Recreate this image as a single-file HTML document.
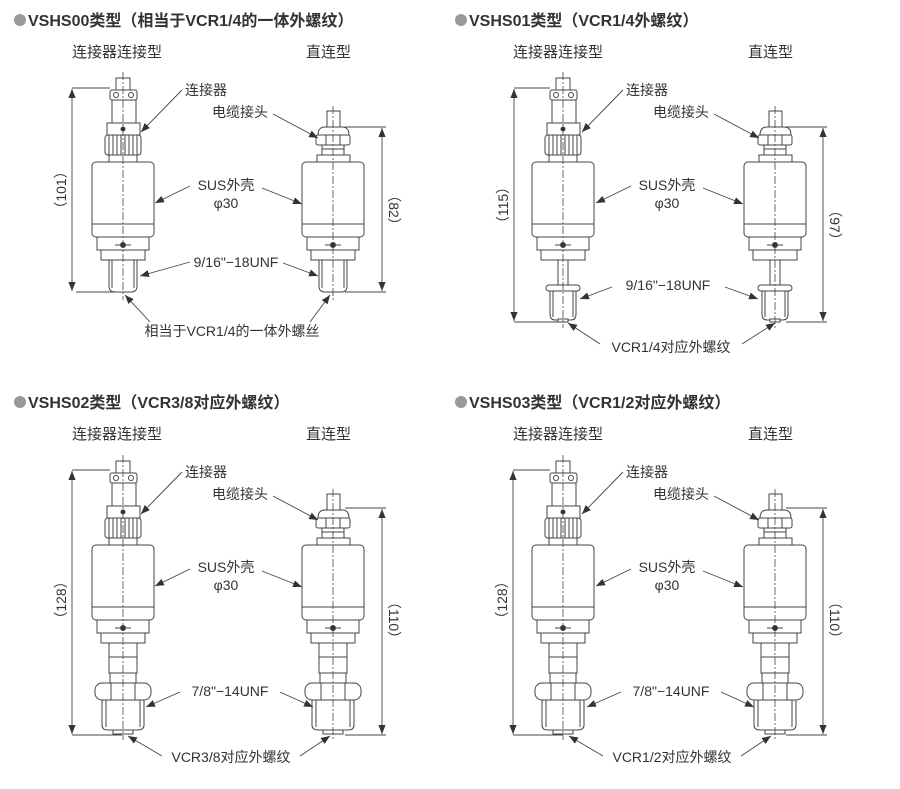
<!DOCTYPE html>
<html><head><meta charset="utf-8"><style>
html,body{margin:0;padding:0;background:#fff;}
svg{display:block;}
text{font-family:"Liberation Sans","Noto Sans CJK SC",sans-serif;fill:#333;}
.t{font-size:16px;font-weight:bold;}
.s{font-size:15px;}
.l{font-size:14px;}
</style></head><body>
<svg width="900" height="789" viewBox="0 0 900 789" xmlns="http://www.w3.org/2000/svg">
<defs>
<marker id="ar" viewBox="0 0 10 10" refX="10" refY="5" markerWidth="9" markerHeight="9" orient="auto-start-reverse" markerUnits="userSpaceOnUse"><path d="M0,1 L10,5 L0,9 z" fill="#333"/></marker>
<g id="conn" fill="#fff" stroke="#444" stroke-width="1">
 <rect x="-7" y="-84" width="14" height="12"/>
 <rect x="-13" y="-72" width="27" height="10" rx="2"/>
 <circle cx="-7" cy="-67" r="2.5"/><circle cx="8" cy="-67" r="2.5"/>
 <rect x="-11" y="-62" width="24" height="23"/>
 <rect x="-16" y="-39" width="33" height="12"/>
 <circle cx="0" cy="-33" r="2" fill="#222"/>
 <rect x="-18" y="-27" width="36" height="20" rx="3"/>
 <path d="M-14,-27v20M-10,-27v20M-6,-27v20M-2,-27v20M2,-27v20M6,-27v20M10,-27v20M14,-27v20"/>
 <rect x="-14" y="-7" width="28" height="7"/>
</g>
<g id="gland" fill="#fff" stroke="#444" stroke-width="1">
 <rect x="-6" y="-51" width="13" height="16"/>
 <path d="M-15,-27 Q-15,-35 -8,-35 H9 Q16,-35 16,-27 Z"/>
 <rect x="-17" y="-27" width="34" height="10" rx="2"/>
 <path d="M-7,-27v10M7,-27v10"/>
 <rect x="-11" y="-17" width="22" height="10"/>
 <path d="M-11,-13h22"/>
 <rect x="-16" y="-7" width="33" height="7"/>
</g>
<g id="body" fill="#fff" stroke="#444" stroke-width="1">
 <rect x="-31" y="0" width="62" height="75" rx="4"/>
 <path d="M-31,62h62"/>
 <rect x="-26" y="75" width="52" height="13"/>
 <rect x="-22" y="88" width="44" height="10"/>
 <circle cx="0" cy="83" r="2.5" fill="#222"/>
 <path d="M-8,83h16"/>
</g>
<g id="b00" fill="#fff" stroke="#444" stroke-width="1">
 <path d="M-14,98 H14 V124 Q14,130 8,130 H-8 Q-14,130 -14,124 Z"/>
 <path d="M-11,98v28M11,98v28"/>
</g>
<g id="b01" fill="#fff" stroke="#444" stroke-width="1">
 <rect x="-5" y="98" width="10" height="26"/>
 <rect x="-17" y="123" width="34" height="6" rx="3"/>
 <path d="M-13,129 H13 V152 Q13,158 8,158 H-8 Q-13,158 -13,152 Z"/>
 <path d="M-10,129v26M10,129v26"/>
 <rect x="-5" y="157" width="10" height="3"/>
</g>
<g id="b23" fill="#fff" stroke="#444" stroke-width="1">
 <rect x="-14" y="98" width="28" height="30"/>
 <path d="M-14,112h28"/>
 <rect x="-13" y="128" width="26" height="10"/>
 <rect x="-28" y="138" width="56" height="17" rx="7"/>
 <path d="M-12,138v17M12,138v17"/>
 <path d="M-21,155 H21 V180 Q21,185 15,185 H-15 Q-21,185 -21,180 Z"/>
 <path d="M-17,155v27M17,155v27"/>
 <rect x="-10" y="185" width="20" height="4"/>
</g>
</defs>

<!-- titles -->
<circle cx="20" cy="20" r="6" fill="#999"/>
<text class="t" x="28" y="26">VSHS00类型（相当于VCR1/4的一体外螺纹）</text>
<text class="s" x="72" y="57">连接器连接型</text><text class="s" x="306" y="57">直连型</text>
<circle cx="461" cy="20" r="6" fill="#999"/>
<text class="t" x="469" y="26">VSHS01类型（VCR1/4外螺纹）</text>
<text class="s" x="513" y="57">连接器连接型</text><text class="s" x="748" y="57">直连型</text>
<circle cx="20" cy="402" r="6" fill="#999"/>
<text class="t" x="28" y="408">VSHS02类型（VCR3/8对应外螺纹）</text>
<text class="s" x="72" y="439">连接器连接型</text><text class="s" x="306" y="439">直连型</text>
<circle cx="461" cy="402" r="6" fill="#999"/>
<text class="t" x="469" y="408">VSHS03类型（VCR1/2对应外螺纹）</text>
<text class="s" x="513" y="439">连接器连接型</text><text class="s" x="748" y="439">直连型</text>

<g stroke="#444" stroke-width="0.9" fill="none">
<path d="M72,88H110M76,292H122M345,127H386M345,292H386"/>
<path d="M514,88H550M514,322H562M786,127H827M786,322H827"/>
<path d="M72,470H110M72,735H122M345,508H386M345,735H386"/>
<path d="M513,470H550M513,735H563M786,508H827M786,735H827"/>
</g>
<g stroke="#444" stroke-width="0.9" fill="none" marker-start="url(#ar)" marker-end="url(#ar)">
<path d="M72,89V291"/><path d="M382,128V291"/>
<path d="M514,89V321"/><path d="M823,128V321"/>
<path d="M72,471V734"/><path d="M382,509V734"/>
<path d="M513,471V734"/><path d="M823,509V734"/>
</g>
<text class="l" transform="translate(66,190) rotate(-90)" text-anchor="middle">（101）</text>
<text class="l" transform="translate(389,210) rotate(90)" text-anchor="middle">（82）</text>
<text class="l" transform="translate(508,205) rotate(-90)" text-anchor="middle">（115）</text>
<text class="l" transform="translate(830,225) rotate(90)" text-anchor="middle">（97）</text>
<text class="l" transform="translate(66,600) rotate(-90)" text-anchor="middle">（128）</text>
<text class="l" transform="translate(389,620) rotate(90)" text-anchor="middle">（110）</text>
<text class="l" transform="translate(507,600) rotate(-90)" text-anchor="middle">（128）</text>
<text class="l" transform="translate(830,620) rotate(90)" text-anchor="middle">（110）</text>

<!-- parts -->
<g transform="translate(123,162)"><use href="#conn"/><use href="#body"/><use href="#b00"/><path d="M0,-90V138" stroke="#444" stroke-width="0.8" stroke-dasharray="8,2,2,2" fill="none"/></g>
<g transform="translate(333,162)"><use href="#gland"/><use href="#body"/><use href="#b00"/><path d="M0,-56V138" stroke="#444" stroke-width="0.8" stroke-dasharray="8,2,2,2" fill="none"/></g>
<g transform="translate(563,162)"><use href="#conn"/><use href="#body"/><use href="#b01"/><path d="M0,-90V166" stroke="#444" stroke-width="0.8" stroke-dasharray="8,2,2,2" fill="none"/></g>
<g transform="translate(775,162)"><use href="#gland"/><use href="#body"/><use href="#b01"/><path d="M0,-56V166" stroke="#444" stroke-width="0.8" stroke-dasharray="8,2,2,2" fill="none"/></g>
<g transform="translate(123,545)"><use href="#conn"/><use href="#body"/><use href="#b23"/><path d="M0,-90V195" stroke="#444" stroke-width="0.8" stroke-dasharray="8,2,2,2" fill="none"/></g>
<g transform="translate(333,545)"><use href="#gland"/><use href="#body"/><use href="#b23"/><path d="M0,-56V195" stroke="#444" stroke-width="0.8" stroke-dasharray="8,2,2,2" fill="none"/></g>
<g transform="translate(563,545)"><use href="#conn"/><use href="#body"/><use href="#b23"/><path d="M0,-90V195" stroke="#444" stroke-width="0.8" stroke-dasharray="8,2,2,2" fill="none"/></g>
<g transform="translate(775,545)"><use href="#gland"/><use href="#body"/><use href="#b23"/><path d="M0,-56V195" stroke="#444" stroke-width="0.8" stroke-dasharray="8,2,2,2" fill="none"/></g>

<!-- leaders -->
<g stroke="#444" stroke-width="0.9" fill="none" marker-end="url(#ar)">
<path d="M182,90L141,132"/><path d="M273,114L318,138"/><path d="M190,186L155,203"/><path d="M262,188L302,204"/>
<path d="M190,262L140,276"/><path d="M283,263L318,276"/><path d="M150,322L125,295"/><path d="M310,322L330,295"/>
<path d="M623,90L582,132"/><path d="M714,114L759,138"/><path d="M631,186L596,203"/><path d="M703,188L743,204"/>
<path d="M612,287L580,299"/><path d="M725,287L758,299"/><path d="M600,344L568,323"/><path d="M742,344L775,323"/>
<path d="M182,472L141,514"/><path d="M273,496L318,520"/><path d="M190,569L155,586"/><path d="M262,571L302,587"/>
<path d="M180,692L146,707"/><path d="M280,692L313,707"/><path d="M162,756L128,736"/><path d="M300,756L330,736"/>
<path d="M623,472L582,514"/><path d="M714,496L759,520"/><path d="M631,569L596,586"/><path d="M703,571L743,587"/>
<path d="M621,692L587,707"/><path d="M721,692L754,707"/><path d="M603,756L569,736"/><path d="M741,756L771,736"/>
</g>

<!-- labels -->
<g class="l">
<text x="185" y="95">连接器</text><text x="212" y="117">电缆接头</text>
<text x="226" y="190" text-anchor="middle">SUS外壳</text><text x="226" y="208" text-anchor="middle">φ30</text>
<text x="236" y="267" text-anchor="middle">9/16"−18UNF</text>
<text x="232" y="336" text-anchor="middle">相当于VCR1/4的一体外螺丝</text>

<text x="626" y="95">连接器</text><text x="653" y="117">电缆接头</text>
<text x="667" y="190" text-anchor="middle">SUS外壳</text><text x="667" y="208" text-anchor="middle">φ30</text>
<text x="668" y="290" text-anchor="middle">9/16"−18UNF</text>
<text x="671" y="352" text-anchor="middle">VCR1/4对应外螺纹</text>

<text x="185" y="477">连接器</text><text x="212" y="499">电缆接头</text>
<text x="226" y="572" text-anchor="middle">SUS外壳</text><text x="226" y="590" text-anchor="middle">φ30</text>
<text x="230" y="696" text-anchor="middle">7/8"−14UNF</text>
<text x="231" y="762" text-anchor="middle">VCR3/8对应外螺纹</text>

<text x="626" y="477">连接器</text><text x="653" y="499">电缆接头</text>
<text x="667" y="572" text-anchor="middle">SUS外壳</text><text x="667" y="590" text-anchor="middle">φ30</text>
<text x="671" y="696" text-anchor="middle">7/8"−14UNF</text>
<text x="672" y="762" text-anchor="middle">VCR1/2对应外螺纹</text>
</g>
</svg>
</body></html>
